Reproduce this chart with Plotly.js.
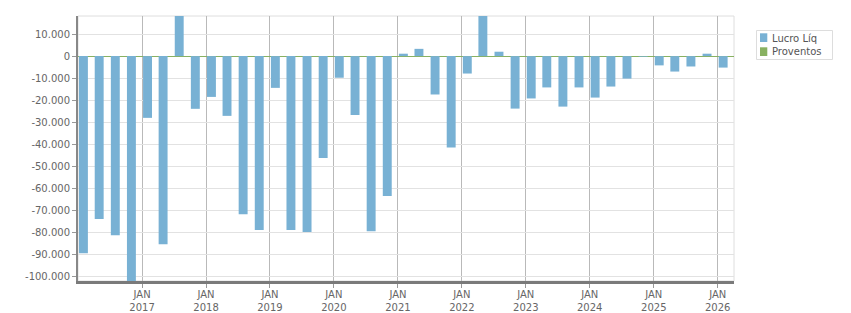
<!DOCTYPE html>
<html>
<head>
<meta charset="utf-8">
<script src="https://cdn.plot.ly/plotly-3.0.1.min.js"></script>
<style>html,body{margin:0;padding:0;background:#fff;}#chart{width:851px;height:313px;}</style>
</head>
<body>
<div id="chart"></div>
<script>
// Quarterly dates (bar positions)
const quarterDates = [
  "2016-02-01","2016-05-01","2016-08-01","2016-11-01",
  "2017-02-01","2017-05-01","2017-08-01","2017-11-01",
  "2018-02-01","2018-05-01","2018-08-01","2018-11-01",
  "2019-02-01","2019-05-01","2019-08-01","2019-11-01",
  "2020-02-01","2020-05-01","2020-08-01","2020-11-01",
  "2021-02-01","2021-05-01","2021-08-01","2021-11-01",
  "2022-02-01","2022-05-01","2022-08-01","2022-11-01",
  "2023-02-01","2023-05-01","2023-08-01","2023-11-01",
  "2024-02-01","2024-05-01","2024-08-01","2024-11-01",
  "2025-02-01","2025-05-01","2025-08-01","2025-11-01",
  "2026-02-01"
];
const lucroLiq = [
  -89400, -73900, -81200, -104000,
  -28000, -85300, 19500, -23900,
  -18500, -27100, -71700, -78900,
  -14400, -78900, -79800, -46200,
  -9800, -26700, -79400, -63500,
  1100, 3300, -17400, -41500,
  -7900, 19000, 2000, -23800,
  -19200, -14200, -22900, -14200,
  -18800, -13800, -10200, -300,
  -4200, -7000, -4700, 1100,
  -5200
];
const proventos = [
  0,0,0,0, 0,0,0,0, 0,0,0,0, 0,0,0,0, 0,0,0,0,
  0,0,0,0, 0,0,0,0, 0,0,0,0, 0,0,0,0, 0,0,0,0, 0
];
const seriesNames = ["Lucro Líq", "Proventos"];
const xTickVals = ["2017-01-01","2018-01-01","2019-01-01","2020-01-01","2021-01-01",
                   "2022-01-01","2023-01-01","2024-01-01","2025-01-01","2026-01-01"];
const xTickText = ["JAN<br>2017","JAN<br>2018","JAN<br>2019","JAN<br>2020","JAN<br>2021",
                   "JAN<br>2022","JAN<br>2023","JAN<br>2024","JAN<br>2025","JAN<br>2026"];
const yTickVals = [10000, 0, -10000, -20000, -30000, -40000, -50000, -60000, -70000, -80000, -90000, -100000];
const yTickText = ["10.000","0","-10.000","-20.000","-30.000","-40.000","-50.000","-60.000","-70.000","-80.000","-90.000","-100.000"];

const BLUE = "#78b1d4";
const GREEN = "#88b161";
const DAY = 86400000;
const FONT = "DejaVu Sans, Verdana, sans-serif";

const traces = [
  {type: "bar", name: seriesNames[0], x: quarterDates, y: lucroLiq,
   width: quarterDates.map(() => 51 * DAY),
   marker: {color: BLUE, line: {width: 0}}, showlegend: false, hoverinfo: "x+y"},
  {type: "bar", name: seriesNames[1], x: quarterDates, y: proventos,
   width: quarterDates.map(() => 51 * DAY),
   marker: {color: GREEN, line: {width: 0}}, showlegend: false, hoverinfo: "x+y"}
];

const L = 78, R = 117, T = 16, B = 32, W = 851, H = 313;
const pw = W - L - R, ph = H - T - B;
const px = v => (v - L) / pw;
const py = v => (H - B - v) / ph;

const layout = {
  width: W, height: H,
  margin: {l: L, r: R, t: T, b: B, pad: 0},
  paper_bgcolor: "#ffffff", plot_bgcolor: "#ffffff",
  barmode: "overlay",
  showlegend: false,
  font: {family: FONT, size: 10, color: "#666"},
  xaxis: {
    type: "date",
    range: ["2016-01-01", "2026-04-04"],
    tickmode: "array", tickvals: xTickVals, ticktext: xTickText,
    showgrid: true, gridcolor: "#b9b9b9", gridwidth: 1,
    showline: true, linecolor: "#7a7a7a", linewidth: 3,
    ticks: "outside", ticklen: 4, tickcolor: "#999", tickwidth: 1,
    ticklabelstandoff: -2,
    tickfont: {family: FONT, size: 10, color: "#666"},
    zeroline: false, fixedrange: true
  },
  yaxis: {
    range: [-102000, 18200],
    tickmode: "array", tickvals: yTickVals, ticktext: yTickText,
    showgrid: true, gridcolor: "#e2e2e2", gridwidth: 1,
    showline: true, linecolor: "#888", linewidth: 2,
    ticks: "outside", ticklen: 4, tickcolor: "#999", tickwidth: 1,
    tickfont: {family: FONT, size: 10, color: "#666"},
    zeroline: true, zerolinecolor: GREEN, zerolinewidth: 1,
    fixedrange: true
  },
  shapes: [
    {type: "rect", xref: "paper", yref: "paper", x0: 0, x1: 1, y0: 0, y1: 1,
     line: {color: "#dedede", width: 1}, layer: "below"},
    {type: "rect", xref: "paper", yref: "paper", x0: px(756.5), x1: px(832.5), y0: py(59.5), y1: py(30.5),
     line: {color: "#dddddd", width: 1}, fillcolor: "#ffffff"},
    {type: "rect", xref: "paper", yref: "paper", x0: px(760), x1: px(767.3), y0: py(42), y1: py(33.3),
     line: {width: 0}, fillcolor: BLUE},
    {type: "rect", xref: "paper", yref: "paper", x0: px(760), x1: px(767.3), y0: py(56), y1: py(47.3),
     line: {width: 0}, fillcolor: GREEN}
  ],
  annotations: [
    {xref: "paper", yref: "paper", x: px(770), y: py(38), xanchor: "left", yanchor: "middle",
     text: seriesNames[0], showarrow: false, font: {family: FONT, size: 10, color: "#555"}},
    {xref: "paper", yref: "paper", x: px(770), y: py(52), xanchor: "left", yanchor: "middle",
     text: seriesNames[1], showarrow: false, font: {family: FONT, size: 10, color: "#555"}}
  ]
};

Plotly.newPlot("chart", traces, layout, {displayModeBar: false, staticPlot: true});
</script>
</body>
</html>
